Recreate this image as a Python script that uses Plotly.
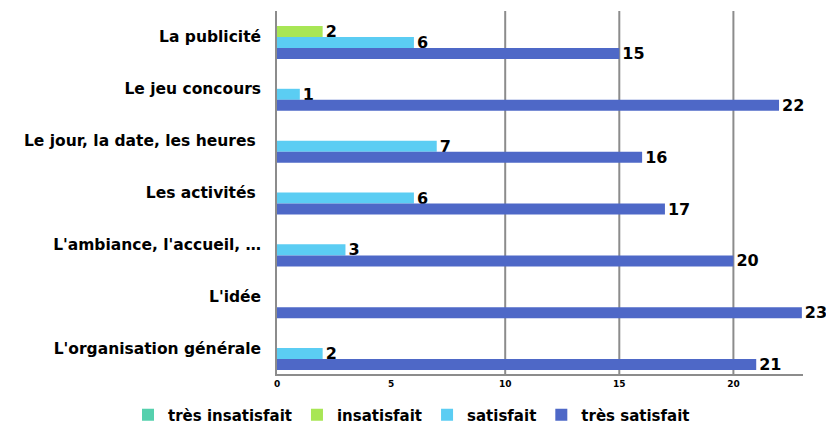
import plotly.graph_objects as go

categories = ["La publicité", "Le jeu concours", "Le jour, la date, les heures ",
              "Les activités ", "L'ambiance, l'accueil, …", "L'idée",
              "L'organisation générale"]
tres_insatisfait = [None, None, None, None, None, None, None]
insatisfait = [2, None, None, None, None, None, None]
satisfait = [6, 1, 7, 6, 3, None, 2]
tres_satisfait = [15, 22, 16, 17, 20, 23, 21]
series_names = ["très insatisfait", "insatisfait", "satisfait", "très satisfait"]
colors = ["#55d0ad", "#a8e655", "#5bcdf3", "#4e68c7"]
tick_vals = [0, 5, 10, 15, 20]
grid_vals = [10, 15, 20]

FONT = "DejaVu Sans"
fig = go.Figure()
for name, vals, col in zip(series_names,
                           [tres_insatisfait, insatisfait, satisfait, tres_satisfait],
                           colors):
    fig.add_trace(go.Bar(
        y=categories, x=vals, name=name, orientation="h",
        marker=dict(color=col, line=dict(width=0)),
        text=[("" if v is None else str(v)) for v in vals],
        textposition="outside", cliponaxis=False, constraintext="none",
        textfont=dict(family=FONT, size=16, color="black", weight="bold"),
    ))

for g in grid_vals:
    fig.add_shape(type="line", xref="x", yref="paper", x0=g, x1=g, y0=0, y1=1,
                  line=dict(color="#8c8c8c", width=2), layer="below")

fig.update_layout(
    width=826, height=430, barmode="group", bargap=0.15, bargroupgap=0,
    plot_bgcolor="white", paper_bgcolor="white",
    margin=dict(l=277, r=23, t=11, b=56, autoexpand=False),
    font=dict(family=FONT, color="black"),
    xaxis=dict(range=[0, 23.05], tickvals=tick_vals, showgrid=False,
               showline=True, linecolor="#8c8c8c", linewidth=2,
               tickfont=dict(size=9, family=FONT, weight="bold"), ticks="",
               zeroline=False, automargin=False),
    yaxis=dict(autorange="reversed", showline=True, linecolor="#8c8c8c",
               linewidth=2, ticks="", showgrid=False, automargin=False,
               tickfont=dict(size=15.5, family=FONT, weight="bold"),
               ticksuffix="  "),
    legend=dict(orientation="h", x=(128 - 277) / 526, xanchor="left",
                y=-0.113, yanchor="middle",
                traceorder="normal", itemwidth=30,
                font=dict(size=15, family=FONT, weight="bold")),
)
fig.write_html("out.html", post_script="document.body.style.margin='0';",
               config={"displayModeBar": False})
